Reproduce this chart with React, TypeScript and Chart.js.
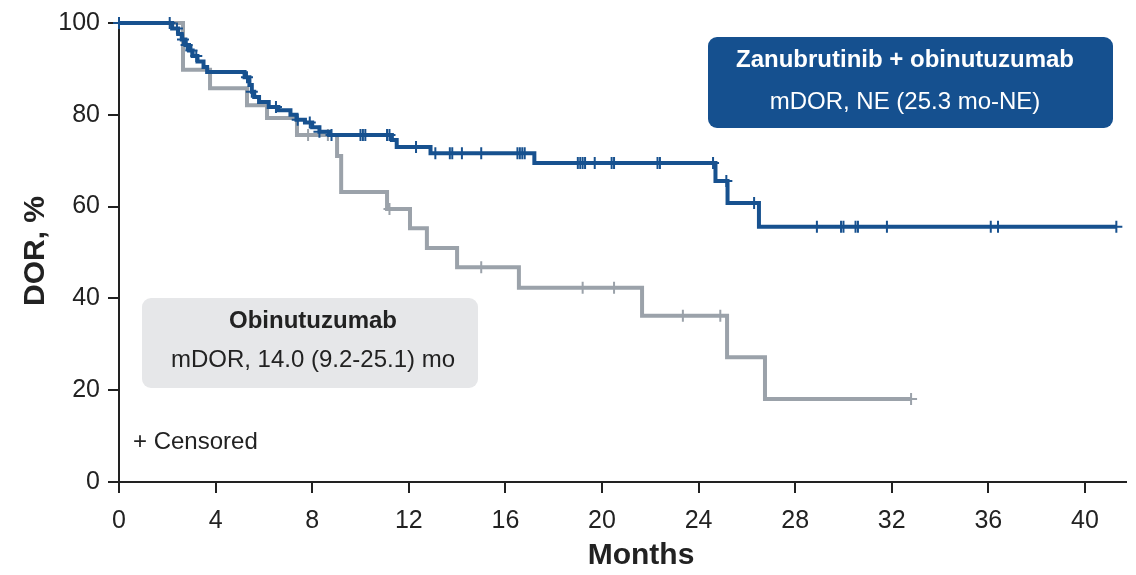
import React, { useEffect, useRef } from 'react';
import { Chart, registerables } from 'chart.js';

Chart.register(...registerables);

// Zanubrutinib + obinutuzumab: event times (months) and DOR after each event (%)
const comboEventMonths = [2.2, 2.45, 2.6, 2.75, 2.9, 3.05, 3.25, 3.5, 3.65, 5.2, 5.4, 5.5, 5.6, 5.8, 6.2, 6.6, 7.1, 7.35, 7.7, 8.0, 8.3, 8.7, 11.3, 11.5, 12.9, 17.2, 24.7, 25.2, 26.5];
const comboEventDor = [98.8, 97.6, 96.4, 95.2, 94.0, 92.8, 91.6, 90.4, 89.3, 88.2, 86.5, 85.0, 83.9, 82.8, 81.7, 81.0, 80.0, 78.9, 78.3, 77.3, 76.3, 75.6, 74.5, 73.0, 71.6, 69.5, 65.6, 60.8, 55.6];
const comboCensorMonths = [0, 2.1, 2.4, 2.65, 2.8, 3.0, 3.2, 5.3, 5.5, 6.5, 7.4, 7.9, 8.3, 8.8, 10.0, 10.1, 10.2, 11.1, 11.2, 12.3, 13.1, 13.7, 13.8, 14.2, 15.0, 16.5, 16.6, 16.7, 16.8, 19.0, 19.1, 19.2, 19.3, 19.7, 20.4, 20.5, 22.3, 22.4, 24.6, 25.15, 26.3, 28.9, 29.9, 30.0, 30.5, 30.6, 31.8, 36.1, 36.4, 41.3];

// Obinutuzumab monotherapy
const monoEventMonths = [2.65, 3.77, 5.3, 6.13, 7.37, 9.03, 9.2, 11.1, 12.05, 12.75, 14.0, 16.56, 21.66, 25.18, 26.75];
const monoEventDor = [89.8, 85.8, 82.1, 79.3, 75.6, 71.0, 63.2, 59.5, 55.3, 51.0, 46.8, 42.3, 36.2, 27.2, 18.1];
const monoCensorMonths = [7.83, 8.65, 11.2, 15.0, 19.2, 20.5, 23.35, 24.9, 32.8];

const xTicks = [0, 4, 8, 12, 16, 20, 24, 28, 32, 36, 40];
const yTicks = [0, 20, 40, 60, 80, 100];

const BLUE = '#17518f';
const GREY = '#9ba2aa';
const INK = '#222222';
const FONT = '"Liberation Sans", Arial, sans-serif';

// DOR at time t from a step function
function dorAt(times: number[], values: number[], t: number): number {
  let v = 100;
  for (let i = 0; i < times.length; i++) {
    if (times[i] <= t) v = values[i];
  }
  return v;
}

function curve(times: number[], values: number[], censors: number[]) {
  const end = Math.max(...censors, ...times);
  const pts = [{ x: 0, y: 100 }];
  times.forEach((t, i) => pts.push({ x: t, y: values[i] }));
  pts.push({ x: end, y: dorAt(times, values, end) });
  return pts;
}

function censorPoints(times: number[], values: number[], censors: number[]) {
  return censors.map((t) => ({ x: t, y: dorAt(times, values, t) }));
}

const annotations = {
  id: 'annotations',
  afterDraw(chart: any) {
    const ctx = chart.ctx as CanvasRenderingContext2D;
    ctx.save();
    ctx.textAlign = 'center';
    ctx.textBaseline = 'middle';

    // combination label box
    ctx.fillStyle = '#15508f';
    ctx.beginPath();
    (ctx as any).roundRect(708, 37, 405, 91, 9);
    ctx.fill();
    ctx.fillStyle = '#ffffff';
    ctx.font = `bold 24px ${FONT}`;
    ctx.fillText('Zanubrutinib + obinutuzumab', 905, 60);
    ctx.font = `24px ${FONT}`;
    ctx.fillText('mDOR, NE (25.3 mo-NE)', 905, 102);

    // monotherapy label box
    ctx.fillStyle = '#e6e7e9';
    ctx.beginPath();
    (ctx as any).roundRect(142, 298, 336, 90, 9);
    ctx.fill();
    ctx.fillStyle = INK;
    ctx.font = `bold 24px ${FONT}`;
    ctx.fillText('Obinutuzumab', 313, 321);
    ctx.font = `24px ${FONT}`;
    ctx.fillText('mDOR, 14.0 (9.2-25.1) mo', 313, 360);

    // censor key
    ctx.textAlign = 'left';
    ctx.fillText('+ Censored', 133, 442);

    // axis titles
    ctx.textAlign = 'center';
    ctx.font = `bold 30px ${FONT}`;
    ctx.fillText('Months', 641, 556);
    ctx.translate(36, 251);
    ctx.rotate(-Math.PI / 2);
    ctx.fillText('DOR, %', 0, 0);
    ctx.restore();
  },
};

export default function App() {
  const ref = useRef<HTMLCanvasElement>(null);

  useEffect(() => {
    if (!ref.current) return;
    const chart = new Chart(ref.current, {
      type: 'line',
      data: {
        datasets: [
          {
            label: 'Zanubrutinib + obinutuzumab censored',
            data: censorPoints(comboEventMonths, comboEventDor, comboCensorMonths),
            showLine: false,
            pointStyle: 'cross',
            pointRadius: 6,
            pointBorderWidth: 2,
            borderColor: BLUE,
            backgroundColor: BLUE,
            order: 0,
            clip: false,
          },
          {
            label: 'Zanubrutinib + obinutuzumab',
            data: curve(comboEventMonths, comboEventDor, comboCensorMonths),
            stepped: 'before',
            borderColor: BLUE,
            borderWidth: 4,
            pointRadius: 0,
            fill: false,
            order: 1,
            clip: false,
          },
          {
            label: 'Obinutuzumab censored',
            data: censorPoints(monoEventMonths, monoEventDor, monoCensorMonths),
            showLine: false,
            pointStyle: 'cross',
            pointRadius: 6,
            pointBorderWidth: 2,
            borderColor: GREY,
            backgroundColor: GREY,
            order: 2,
            clip: false,
          },
          {
            label: 'Obinutuzumab',
            data: curve(monoEventMonths, monoEventDor, monoCensorMonths),
            stepped: 'before',
            borderColor: GREY,
            borderWidth: 4,
            pointRadius: 0,
            fill: false,
            order: 3,
            clip: false,
          },
        ],
      },
      options: {
        animation: false,
        responsive: true,
        maintainAspectRatio: false,
        layout: { padding: { top: 23, right: 10, bottom: 0, left: 0 } },
        plugins: { legend: { display: false }, tooltip: { enabled: false } },
        scales: {
          x: {
            type: 'linear',
            min: 0,
            max: 41.7,
            afterBuildTicks: (s: any) => {
              s.ticks = xTicks.map((v) => ({ value: v }));
            },
            afterFit: (s: any) => {
              s.height = 93;
            },
            ticks: { color: INK, font: { family: FONT, size: 25 }, padding: 13, maxRotation: 0 },
            grid: { drawOnChartArea: false, drawTicks: true, tickLength: 11, tickColor: INK, lineWidth: 2 },
            border: { display: true, color: INK, width: 2 },
          },
          y: {
            type: 'linear',
            min: 0,
            max: 100,
            afterBuildTicks: (s: any) => {
              s.ticks = yTicks.map((v) => ({ value: v }));
            },
            afterFit: (s: any) => {
              s.width = 119;
            },
            ticks: { color: INK, font: { family: FONT, size: 25 }, padding: 8 },
            grid: { drawOnChartArea: false, drawTicks: true, tickLength: 11, tickColor: INK, lineWidth: 2 },
            border: { display: true, color: INK, width: 2 },
          },
        },
      },
      plugins: [annotations],
    });
    return () => chart.destroy();
  }, []);

  return (
    <div style={{ position: 'fixed', left: 0, top: 0, width: 1136, height: 575, background: '#fff' }}>
      <canvas ref={ref} />
    </div>
  );
}
